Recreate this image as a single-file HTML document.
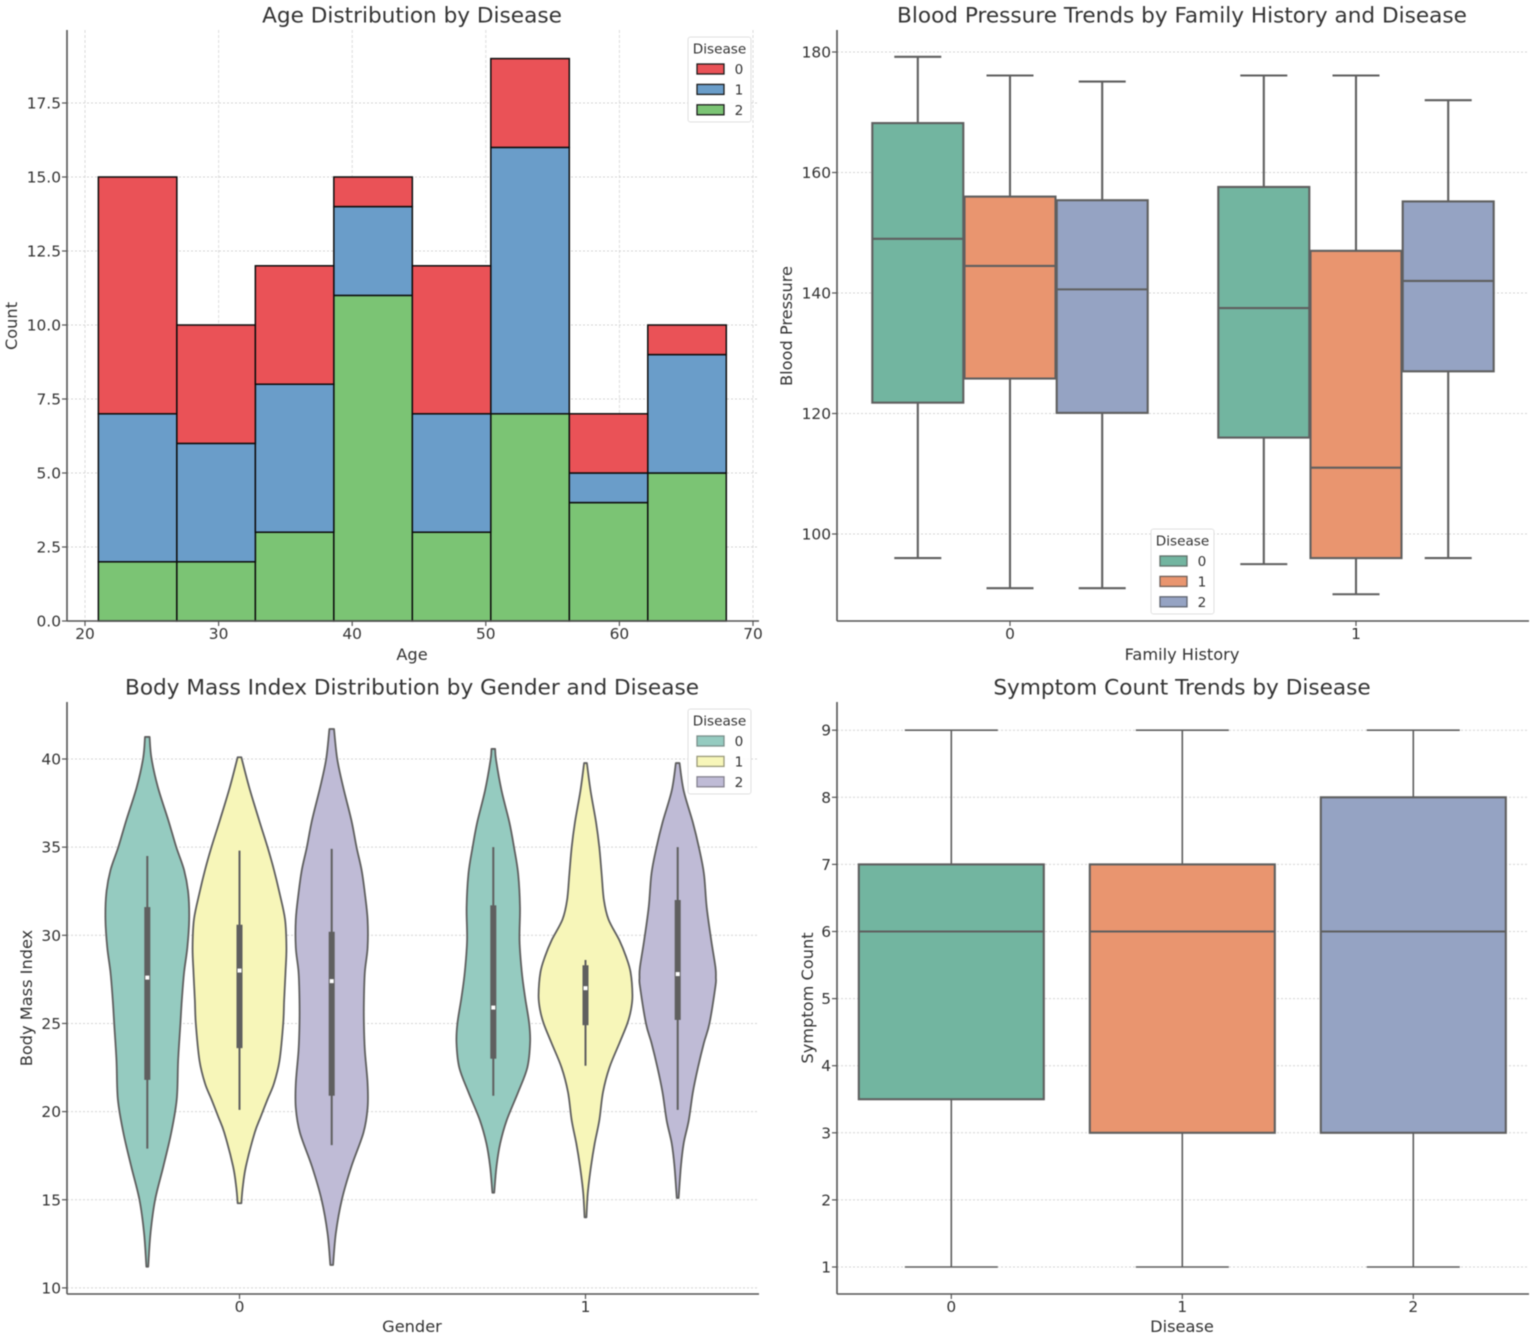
<!DOCTYPE html>
<html>
<head>
<meta charset="utf-8">
<title>Disease dataset charts</title>
<style>
html,body{margin:0;padding:0;background:#fff;width:1535px;height:1339px;overflow:hidden}
svg{display:block;filter:blur(0.45px)}
text{font-family:"DejaVu Sans","Liberation Sans",sans-serif;fill:#333}
</style>
</head>
<body>
<svg id="chart" xmlns="http://www.w3.org/2000/svg" width="1535" height="1339" viewBox="0 0 1535 1339"></svg>
<script>
// Panel A: age histogram
const ageTicks = [20, 30, 40, 50, 60, 70];
const countTicks = [0, 2.5, 5, 7.5, 10, 12.5, 15, 17.5];
const countTickLabels = ['0.0', '2.5', '5.0', '7.5', '10.0', '12.5', '15.0', '17.5'];
const ageBinEdges = [21, 26.875, 32.75, 38.625, 44.5, 50.375, 56.25, 62.125, 68];
const ageCountsDisease2 = [2, 2, 3, 11, 3, 7, 4, 5];
const ageCountsDisease1 = [5, 4, 5, 3, 4, 9, 1, 4];
const ageCountsDisease0 = [8, 4, 4, 1, 5, 3, 2, 1];

// Panel B: blood pressure box plots, [whisker low, q1, median, q3, whisker high]
const familyCategories = ['0', '1'];
const bpTicks = [100, 120, 140, 160, 180];
const bpFamily0 = [[96, 121.8, 149, 168.2, 179.2], [91, 125.8, 144.5, 156, 176.1], [91, 120.1, 140.6, 155.4, 175.1]];
const bpFamily1 = [[95, 116, 137.5, 157.6, 176.1], [90, 96, 111, 147, 176.1], [96, 127, 142, 155.2, 172]];

// Panel C: BMI violins
const genderCategories = ['0', '1'];
const bmiTicks = [10, 15, 20, 25, 30, 35, 40];
const v00Levels = [41.25, 40.05, 38.4, 36.5, 35, 33.7, 32.4, 30.9, 29.3, 27.9, 26.3, 25, 22.9, 20.7, 18.8, 16.9, 15, 13.1, 11.2];
const v00Density = [.05, .09, .23, .46, .63, .8, .89, .91, .87, .8, .75, .72, .67, .64, .52, .35, .17, .07, .02];
const v01Levels = [40.1, 38.4, 36.5, 35, 33.7, 32.4, 30.9, 29.3, 27.9, 26.3, 25, 22.9, 21.6, 20.7, 19.7, 18.8, 16.9, 15.7, 14.8];
const v01Density = [.04, .21, .43, .61, .75, .87, .99, 1.02, 1, .97, .95, .87, .75, .61, .46, .33, .14, .07, .04];
const v02Levels = [41.7, 40, 38.4, 36.5, 35, 33.7, 32.4, 30.9, 29.3, 27.9, 26.3, 25, 23.5, 21.6, 20.2, 18.8, 16.9, 15, 13.1, 11.3];
const v02Density = [.05, .12, .25, .43, .54, .65, .72, .78, .78, .72, .7, .7, .72, .78, .78, .69, .43, .22, .09, .03];
const v10Levels = [40.57, 39.94, 38.2, 36.4, 35, 33.5, 31.6, 29.7, 27.9, 26.5, 25, 23.9, 22.5, 21.1, 19.5, 18.2, 16.9, 15.4];
const v10Density = [.04, .06, .18, .35, .45, .54, .58, .57, .62, .69, .78, .8, .74, .54, .29, .15, .07, .02];
const v11Levels = [39.77, 38.2, 36.4, 35, 33.5, 32, 30.9, 29.7, 28.8, 27.9, 26.6, 25.8, 25, 23.9, 22.5, 21.1, 19.5, 18.2, 16.9, 15.4, 14];
const v11Density = [.03, .11, .23, .3, .35, .4, .5, .74, .88, .98, 1.02, .99, .91, .74, .52, .38, .3, .2, .12, .05, .02];
const v12Levels = [39.77, 38.2, 36.4, 35, 33.5, 31.6, 29.7, 28.2, 27.6, 27.1, 25, 23.9, 22.5, 21.1, 19.5, 18.2, 16.9, 15.1];
const v12Density = [.04, .13, .33, .46, .57, .63, .73, .82, .83, .82, .69, .57, .44, .33, .24, .13, .07, .02];
// inner box: [whisker low, q1, median, q3, whisker high]
const bmiInner0 = [[17.9, 21.8, 27.6, 31.6, 34.5], [20.1, 23.6, 28, 30.6, 34.8], [18.1, 20.9, 27.4, 30.2, 34.9]];
const bmiInner1 = [[20.9, 23, 25.9, 31.7, 35], [22.6, 24.9, 27, 28.3, 28.6], [20.1, 25.2, 27.8, 32, 35]];

// Panel D: symptom count box plots
const diseaseCategories = ['0', '1', '2'];
const symptomTicks = [1, 2, 3, 4, 5, 6, 7, 8, 9];
const symptomBoxes = [[1, 3.5, 6, 7, 9], [1, 3, 6, 7, 9], [1, 3, 6, 8, 9]];

const legendLabels = ['0', '1', '2'];

const svg = document.getElementById('chart');
const NS = 'http://www.w3.org/2000/svg';
const FONT_TICK = 15.4, FONT_LABEL = 16.2, FONT_TITLE = 21.6;
const SPINE = '#555', LINE = '#5f5f5f';

function make(parent, tag, attrs, txt) {
  const el = document.createElementNS(NS, tag);
  for (const k in attrs) el.setAttribute(k, attrs[k]);
  if (txt !== undefined) el.textContent = txt;
  parent.appendChild(el);
  return el;
}

function panelGroup(name) {
  const g = make(svg, 'g', {});
  
  
  return g;
}

function title(g, cx, y, s) {
  const el = make(g, 'text', {x: cx, y: y, 'text-anchor': 'middle', 'font-size': FONT_TITLE}, s);
  
  
}

function xLabel(g, cx, y, s) {
  const el = make(g, 'text', {x: cx, y: y, 'text-anchor': 'middle', 'font-size': FONT_LABEL}, s);
  
  
}

function yLabel(g, x, cy, s) {
  const el = make(g, 'text', {x: 0, y: 0, 'text-anchor': 'middle', 'font-size': FONT_LABEL, transform: 'translate(' + x + ',' + cy + ') rotate(-90)'}, s);
  
  
}

function spines(g, left, right, top, bottom) {
  const a = make(g, 'line', {x1: left, x2: left, y1: top, y2: bottom, stroke: SPINE, 'stroke-width': 1.6});
  
  
  const b = make(g, 'line', {x1: left, x2: right, y1: bottom, y2: bottom, stroke: SPINE, 'stroke-width': 1.6});
  
  
}

function yAxis(g, ticks, labels, yScale, left, right) {
  ticks.forEach(function (t, i) {
    const y = yScale(t);
    const gl = make(g, 'line', {x1: left, x2: right, y1: y, y2: y, stroke: '#d4d4d4', 'stroke-width': 1, 'stroke-dasharray': '2 2'});
    
    
    const tk = make(g, 'line', {x1: left - 5, x2: left, y1: y, y2: y, stroke: SPINE, 'stroke-width': 1.2});
    
    
    const lb = make(g, 'text', {x: left - 6, y: y + 5.5, 'text-anchor': 'end', 'font-size': FONT_TICK}, labels[i]);
    
    
  });
}

function xAxis(g, ticks, labels, xScale, bottom) {
  ticks.forEach(function (t, i) {
    const x = xScale(t);
    const tk = make(g, 'line', {x1: x, x2: x, y1: bottom, y2: bottom + 5, stroke: SPINE, 'stroke-width': 1.2});
    
    
    const lb = make(g, 'text', {x: x, y: bottom + 18, 'text-anchor': 'middle', 'font-size': FONT_TICK}, labels[i]);
    
    
  });
}

function legend(g, x, y, colors) {
  const box = make(g, 'g', {});
  
  
  make(box, 'rect', {x: x, y: y, width: 63, height: 85, rx: 2.5, fill: '#fff', 'fill-opacity': 0.85, stroke: '#e0e0e0', 'stroke-width': 1});
  const t = make(box, 'text', {x: x + 31.5, y: y + 16.5, 'text-anchor': 'middle', 'font-size': 13.6}, 'Disease');
  
  
  colors.forEach(function (c, i) {
    const s = make(box, 'rect', {x: x + 9, y: y + 27 + i * 20.4, width: 27, height: 10, fill: c.fill, stroke: c.stroke, 'stroke-width': 1.3});
    
    
    const l = make(box, 'text', {x: x + 51, y: y + 37 + i * 20.4, 'text-anchor': 'middle', 'font-size': 13.6}, legendLabels[i]);
    
    
  });
}

function drawBox(g, cx, width, capWidth, stats, yScale, fill, lw, whiskerLw) {
  const w0 = yScale(stats[0]), q1 = yScale(stats[1]), med = yScale(stats[2]), q3 = yScale(stats[3]), w1 = yScale(stats[4]);
  const group = make(g, 'g', {});
  
  
  [[w0, q1], [q3, w1]].forEach(function (p) {
    const wl = make(group, 'line', {x1: cx, x2: cx, y1: p[0], y2: p[1], stroke: LINE, 'stroke-width': whiskerLw});
    
    
  });
  [w0, w1].forEach(function (y) {
    const cp = make(group, 'line', {x1: cx - capWidth / 2, x2: cx + capWidth / 2, y1: y, y2: y, stroke: LINE, 'stroke-width': whiskerLw});
    
    
  });
  const r = make(group, 'rect', {x: cx - width / 2, y: q3, width: width, height: q1 - q3, fill: fill, stroke: LINE, 'stroke-width': lw});
  
  
  const m = make(group, 'line', {x1: cx - width / 2, x2: cx + width / 2, y1: med, y2: med, stroke: LINE, 'stroke-width': lw});
  
  
}

/* ---------- Panel A ---------- */
(function () {
  const g = panelGroup('age-histogram-panel');
  const L = 67, R = 759, T = 30, B = 621;
  const x = function (v) { return 85 + (v - 20) * 13.36; };
  const y = function (v) { return B - v * 29.6; };
  ageTicks.forEach(function (t) {
    const gl = make(g, 'line', {x1: x(t), x2: x(t), y1: T, y2: B, stroke: '#dcdcdc', 'stroke-width': 1, 'stroke-dasharray': '3 2'});
    
    
  });
  yAxis(g, countTicks, countTickLabels, y, L, R);
  const layers = [
    {vals: ageCountsDisease2, fill: '#7bc474', name: 'bar-disease-2'},
    {vals: ageCountsDisease1, fill: '#6a9dc9', name: 'bar-disease-1'},
    {vals: ageCountsDisease0, fill: '#ea5257', name: 'bar-disease-0'}
  ];
  const base = ageCountsDisease2.map(function () { return 0; });
  layers.forEach(function (layer) {
    layer.vals.forEach(function (v, i) {
      const top = base[i] + v;
      const r = make(g, 'rect', {x: x(ageBinEdges[i]), y: y(top), width: x(ageBinEdges[i + 1]) - x(ageBinEdges[i]), height: y(base[i]) - y(top), fill: layer.fill, stroke: '#0d0d0d', 'stroke-width': 1.5});
      
      
      base[i] = top;
    });
  });
  spines(g, L, R, T, B);
  xAxis(g, ageTicks, ageTicks.map(String), x, B);
  title(g, 412, 22.5, 'Age Distribution by Disease');
  xLabel(g, 412, 660, 'Age');
  yLabel(g, 17, 326, 'Count');
  legend(g, 688, 37, [{fill: '#ea5257', stroke: '#1c1c1c'}, {fill: '#6a9dc9', stroke: '#1c1c1c'}, {fill: '#7bc474', stroke: '#1c1c1c'}]);
})();

/* ---------- Panel B ---------- */
(function () {
  const g = panelGroup('blood-pressure-panel');
  const L = 837, R = 1529, T = 30, B = 621;
  const catX = function (c) { return 1010 + c * 346; };
  const y = function (v) { return 534 - (v - 100) * 6.025; };
  const fills = ['#72b5a0', '#e9956f', '#95a3c3'];
  yAxis(g, bpTicks, bpTicks.map(String), y, L, R);
  [bpFamily0, bpFamily1].forEach(function (group, c) {
    group.forEach(function (stats, h) {
      drawBox(g, catX(c) + (h - 1) * 92.2, 91, 47, stats, y, fills[h], 2.1, 2.1);
    });
  });
  spines(g, L, R, T, B);
  xAxis(g, familyCategories.map(function (c, i) { return i; }), familyCategories, catX, B);
  title(g, 1182, 22.5, 'Blood Pressure Trends by Family History and Disease');
  xLabel(g, 1182, 660, 'Family History');
  yLabel(g, 792, 326, 'Blood Pressure');
  legend(g, 1151, 529, [{fill: '#72b5a0', stroke: '#5f6f68'}, {fill: '#e9956f', stroke: '#6f5f58'}, {fill: '#95a3c3', stroke: '#5f6470'}]);
})();

/* ---------- Panel C ---------- */
function sideCurve(pts) {
  let d = '';
  for (let i = 0; i < pts.length - 1; i++) {
    const p0 = pts[Math.max(i - 1, 0)], p1 = pts[i], p2 = pts[i + 1], p3 = pts[Math.min(i + 2, pts.length - 1)];
    const c1x = p1[0] + (p2[0] - p0[0]) / 6, c1y = p1[1] + (p2[1] - p0[1]) / 6;
    const c2x = p2[0] - (p3[0] - p1[0]) / 6, c2y = p2[1] - (p3[1] - p1[1]) / 6;
    d += 'C' + c1x.toFixed(2) + ' ' + c1y.toFixed(2) + ' ' + c2x.toFixed(2) + ' ' + c2y.toFixed(2) + ' ' + p2[0].toFixed(2) + ' ' + p2[1].toFixed(2);
  }
  return d;
}

function violinPath(levels, density, cx, scale, y) {
  const left = levels.map(function (l, i) { return [cx - density[i] * scale, y(l)]; });
  const right = levels.map(function (l, i) { return [cx + density[i] * scale, y(l)]; }).reverse();
  return 'M' + left[0][0].toFixed(2) + ' ' + left[0][1].toFixed(2) + sideCurve(left) +
    'L' + right[0][0].toFixed(2) + ' ' + right[0][1].toFixed(2) + sideCurve(right) + 'Z';
}

(function () {
  const g = panelGroup('bmi-violin-panel');
  const L = 67, R = 759, T = 702, B = 1294;
  const catX = function (c) { return 239.5 + c * 346; };
  const y = function (v) { return 759 + (40 - v) * 17.63; };
  const fills = ['#95cbc0', '#f7f6b9', '#bfbbd6'];
  yAxis(g, bmiTicks, bmiTicks.map(String), y, L, R);
  const violins = [
    [[v00Levels, v00Density], [v01Levels, v01Density], [v02Levels, v02Density]],
    [[v10Levels, v10Density], [v11Levels, v11Density], [v12Levels, v12Density]]
  ];
  const inner = [bmiInner0, bmiInner1];
  violins.forEach(function (group, c) {
    group.forEach(function (v, h) {
      const cx = catX(c) + (h - 1) * 92.2;
      const vg = make(g, 'g', {});
      
      
      const body = make(vg, 'path', {d: violinPath(v[0], v[1], cx, 46, y), fill: fills[h], stroke: LINE, 'stroke-width': 1.8, 'stroke-linejoin': 'round'});
      
      
      const s = inner[c][h];
      const wl = make(vg, 'line', {x1: cx, x2: cx, y1: y(s[0]), y2: y(s[4]), stroke: LINE, 'stroke-width': 2});
      
      
      const bx = make(vg, 'rect', {x: cx - 3, y: y(s[3]), width: 6, height: y(s[1]) - y(s[3]), fill: LINE});
      
      
      const md = make(vg, 'rect', {x: cx - 2, y: y(s[2]) - 2, width: 4, height: 4, fill: '#fff'});
      
      
    });
  });
  spines(g, L, R, T, B);
  xAxis(g, genderCategories.map(function (c, i) { return i; }), genderCategories, catX, B);
  title(g, 412, 694.5, 'Body Mass Index Distribution by Gender and Disease');
  xLabel(g, 412, 1332, 'Gender');
  yLabel(g, 32, 998, 'Body Mass Index');
  legend(g, 688, 709, [{fill: '#95cbc0', stroke: '#7a8f8a'}, {fill: '#f7f6b9', stroke: '#9a9a7a'}, {fill: '#bfbbd6', stroke: '#85828f'}]);
})();

/* ---------- Panel D ---------- */
(function () {
  const g = panelGroup('symptom-count-panel');
  const L = 837, R = 1529, T = 702, B = 1294;
  const catX = function (c) { return 951.3 + c * 231; };
  const y = function (v) { return 1267 - (v - 1) * 67.1; };
  const fills = ['#72b5a0', '#e9956f', '#95a3c3'];
  yAxis(g, symptomTicks, symptomTicks.map(String), y, L, R);
  symptomBoxes.forEach(function (stats, c) {
    drawBox(g, catX(c), 185, 93, stats, y, fills[c], 2.1, 1.6);
  });
  spines(g, L, R, T, B);
  xAxis(g, diseaseCategories.map(function (c, i) { return i; }), diseaseCategories, catX, B);
  title(g, 1182, 694.5, 'Symptom Count Trends by Disease');
  xLabel(g, 1182, 1332, 'Disease');
  yLabel(g, 813, 998, 'Symptom Count');
})();
</script>
</body>
</html>
